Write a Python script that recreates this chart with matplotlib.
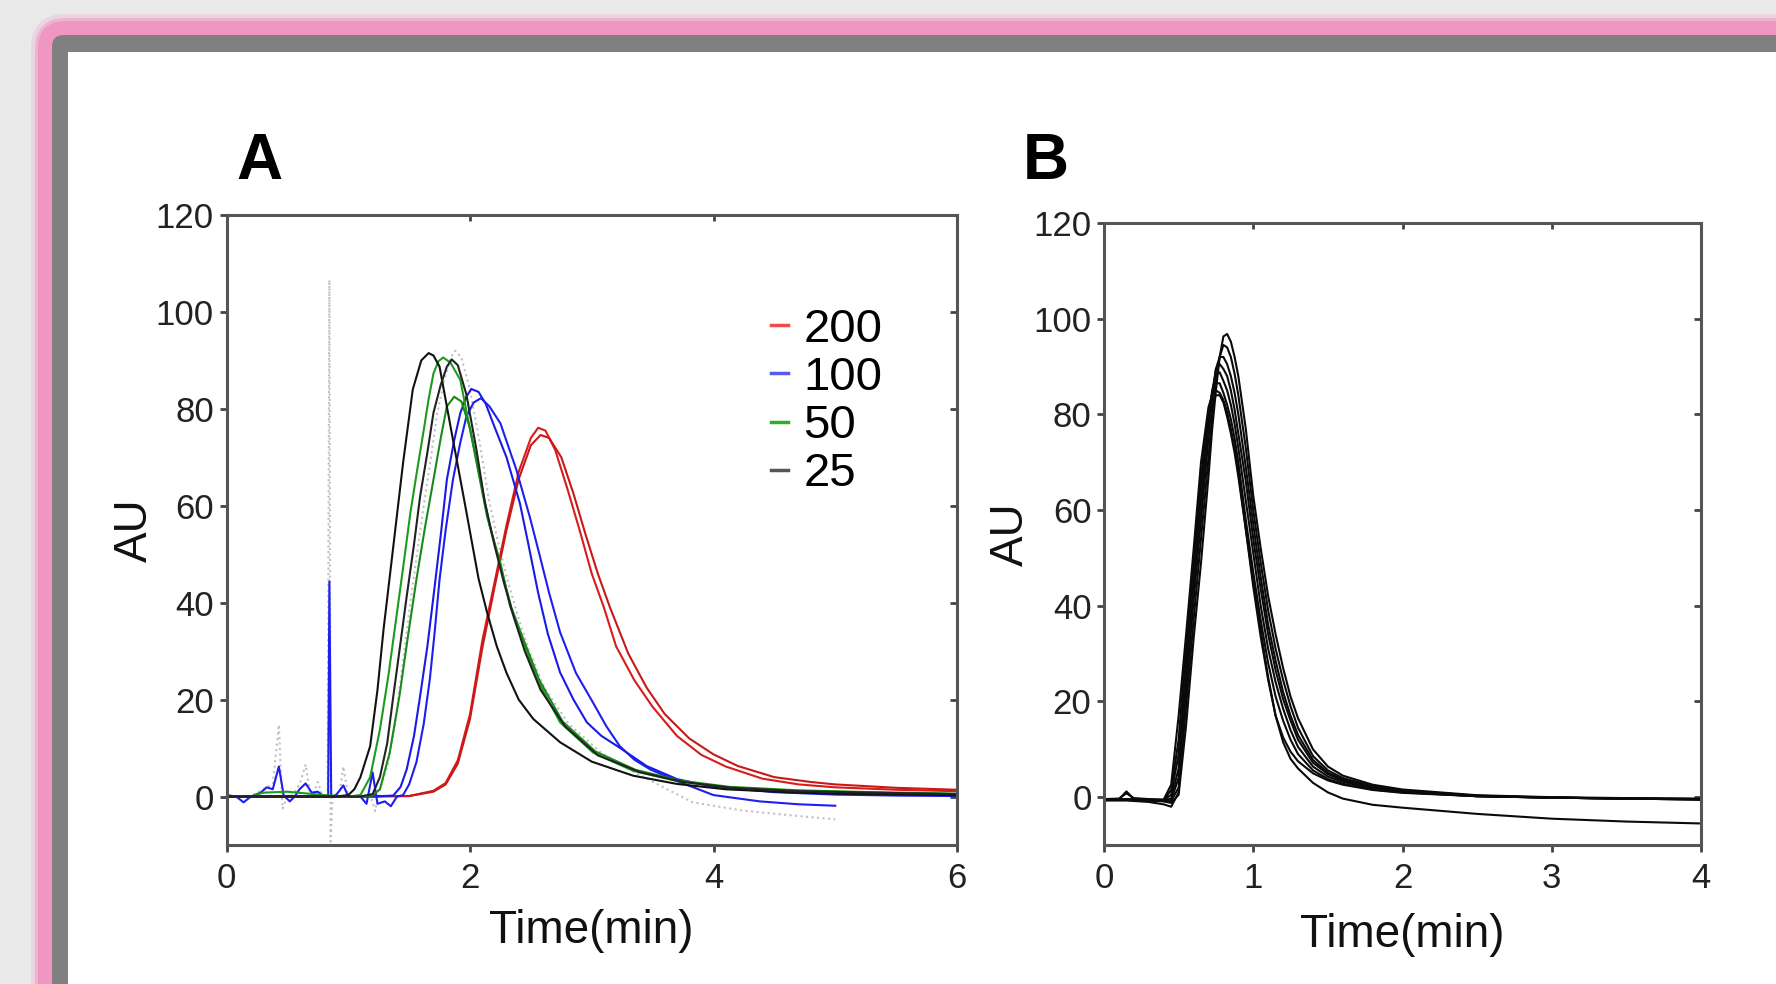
import matplotlib
matplotlib.use("Agg")
import matplotlib.pyplot as plt
from matplotlib.patches import Rectangle, FancyBboxPatch
from matplotlib.lines import Line2D

plt.rcParams['font.family'] = ['Liberation Sans', 'DejaVu Sans']

# ---------------- panel A: traces ----------------
red1_x = [0, 1.0, 1.5, 1.7, 1.8, 1.9, 2.0, 2.1, 2.2, 2.3, 2.4, 2.5, 2.56, 2.62, 2.7, 2.8, 2.9,
          3.0, 3.1, 3.2, 3.35, 3.5, 3.7, 3.9, 4.1, 4.4, 4.7, 5.0, 5.5, 6.0]
red1_y = [0, 0, 0.1, 1.2, 2.8, 7.5, 17, 32, 44, 56, 67, 74, 76.1, 75.5, 71.5, 63.5, 55,
          46, 39, 31, 24, 18.5, 12.5, 8.6, 6.2, 3.7, 2.5, 1.9, 1.4, 1.1]
red2_x = [0, 1.0, 1.5, 1.7, 1.8, 1.9, 2.0, 2.1, 2.2, 2.3, 2.4, 2.5, 2.58, 2.65, 2.75, 2.85, 2.95,
          3.05, 3.15, 3.3, 3.45, 3.6, 3.8, 4.0, 4.2, 4.5, 4.8, 5.0, 5.5, 6.0]
red2_y = [0, 0, 0.1, 1.0, 2.5, 6.8, 16, 30.5, 43, 55, 65.5, 72.5, 74.6, 74, 70, 62.5, 54,
          46, 39, 29.5, 22.5, 17, 12, 8.7, 6.3, 4, 3, 2.5, 1.8, 1.4]

blue1_x = [0, 1.2, 1.37, 1.43, 1.48, 1.54, 1.59, 1.65, 1.70, 1.76, 1.81, 1.87, 1.92, 1.97, 2.01,
           2.07, 2.13, 2.19, 2.30, 2.41, 2.48, 2.56, 2.64, 2.74, 2.85, 2.96, 3.08, 3.21, 3.45,
           3.70, 4.0, 4.5, 5.0, 5.5, 6.0]
blue1_y = [0, 0, 0.2, 2, 5.6, 12.5, 20.7, 31, 41.3, 54, 65.4, 73.5, 79.1, 82.5, 84.1,
           83.5, 81, 77, 70, 60.5, 52, 42, 33.5, 25.6, 20, 15.3, 12.5, 10.4, 6.3,
           3.6, 2.0, 0.9, 0.4, 0.2, 0.1]
blue2_x = [0, 0.08, 0.14, 0.2, 0.28, 0.33, 0.38, 0.43, 0.47, 0.52, 0.56, 0.6, 0.65, 0.7, 0.75,
           0.8, 0.835, 0.845, 0.86, 0.9, 0.96, 1.0, 1.1, 1.15, 1.2, 1.24, 1.3, 1.35, 1.4, 1.45,
           1.5, 1.56, 1.62, 1.67, 1.71, 1.75, 1.8, 1.86, 1.92, 1.97, 2.03, 2.09, 2.16, 2.25,
           2.38, 2.49, 2.57, 2.65, 2.74, 2.87, 3.01, 3.12, 3.23, 3.35, 3.48, 3.70, 4.0, 4.38,
           4.7, 5.0]
blue2_y = [0.3, 0, -1.2, 0, 0.8, 1.9, 1.5, 6.2, 0.2, -1, 0, 1.5, 2.7, 0.8, 1.0,
           0, 0, 44.4, 0, 0.3, 2.3, 0, 0, -1.5, 5, -1.5, -1, -2, 0, 0.3,
           2.5, 7.1, 15, 24.2, 34, 44.8, 55, 65.4, 73, 78.4, 81.3, 82.2, 80.5, 77,
           67.5, 57.8, 50, 42, 33.9, 25.5, 19.4, 14.5, 10.4, 7.6, 5.6, 3.2, 0.3, -1.0,
           -1.6, -1.9]

green1_x = [0, 0.2, 0.3, 0.5, 0.8, 1.0, 1.1, 1.18, 1.26, 1.33, 1.40, 1.46, 1.51, 1.57, 1.62,
            1.66, 1.70, 1.74, 1.78, 1.84, 1.92, 2.03, 2.14, 2.25, 2.33, 2.41, 2.55, 2.74,
            3.01, 3.34, 3.70, 4.11, 4.66, 5.3, 6.0]
green1_y = [0, 0, 0.8, 1.0, 0.3, 0, 0.3, 4, 13.8, 25, 37.9, 49, 58.5, 68, 75.6,
            82, 87.3, 89.8, 90.6, 89.5, 86, 72, 57.8, 48.2, 39.2, 33.9, 24.2, 15.3,
            9.1, 5.3, 3.2, 1.9, 1.2, 0.8, 0.5]
green2_x = [0, 1.1, 1.2, 1.26, 1.34, 1.42, 1.49, 1.56, 1.63, 1.70, 1.76, 1.81, 1.87, 1.93, 2.0,
            2.08, 2.16, 2.25, 2.34, 2.43, 2.57, 2.76, 3.03, 3.36, 3.72, 4.13, 4.68, 5.3, 6.0]
green2_y = [0, 0, 0.2, 1.5, 9, 20.7, 33, 44.8, 55.5, 65.4, 74, 80.5, 82.5, 81.5, 76,
            66, 56, 47.5, 39, 33, 24, 15.5, 9.3, 5.5, 3.3, 2.0, 1.3, 0.9, 0.6]

black1_x = [0, 0.9, 1.0, 1.05, 1.1, 1.18, 1.24, 1.29, 1.37, 1.45, 1.53, 1.6, 1.66, 1.7, 1.75,
            1.85, 1.95, 2.07, 2.14, 2.22, 2.3, 2.4, 2.52, 2.74, 3.0, 3.34, 3.7, 4.1, 4.6, 5.0,
            6.0]
black1_y = [0, 0, 0.3, 1.5, 4, 10.4, 22, 34.5, 51.6, 68.8, 84, 90, 91.5, 91, 88.7,
            75, 61.5, 45, 38, 31, 25.5, 20, 16, 11.2, 7.2, 4.3, 2.6, 1.5, 0.9, 0.6,
            0.3]
black2_x = [0, 1.1, 1.2, 1.26, 1.32, 1.37, 1.42, 1.48, 1.54, 1.59, 1.65, 1.70, 1.76, 1.81, 1.85,
            1.9, 1.97, 2.05, 2.12, 2.2, 2.28, 2.36, 2.45, 2.58, 2.78, 3.05, 3.4, 3.75, 4.15,
            4.7, 5.3, 6.0]
black2_y = [0, 0, 0.5, 4, 11, 20.7, 30, 41.3, 52, 61.9, 71, 79.2, 85, 88.7, 90.2,
            89, 83, 72, 61, 52, 44, 37, 30, 22, 14.5, 8.5, 5, 3.0, 1.8,
            1.1, 0.8, 0.5]

gray_x = [0, 0.2, 0.3, 0.38, 0.43, 0.46, 0.5, 0.55, 0.6, 0.65, 0.69, 0.72, 0.75, 0.79, 0.83,
          0.845, 0.855, 0.87, 0.93, 0.96, 1.0, 1.1, 1.18, 1.22, 1.26, 1.32, 1.38, 1.45, 1.51,
          1.57, 1.62, 1.68, 1.73, 1.79, 1.84, 1.88, 1.93, 2.0, 2.08, 2.15, 2.23, 2.31, 2.39,
          2.48, 2.61, 2.81, 3.08, 3.35, 3.62, 3.83, 4.24, 4.65, 5.0]
gray_y = [0, 0, 1.5, 2.5, 14.8, -2.5, 0, 0.5, 2.5, 6.6, 0, 1, 3, 0, 0,
          106.6, -9.3, 0, 1, 6.2, 0, 0, 0.5, -3, 1.5, 6, 14, 28, 40,
          51, 60, 70, 79, 86, 90.5, 92, 90.5, 84, 73, 62, 52.5, 44.5, 37.5,
          30.5, 22.5, 15, 9, 5, 1.5, -1.2, -2.9, -3.9, -4.7]

legend_labels = ['200', '100', '50', '25']

# ---------------- panel B: replicate runs ----------------
xb = [0, 0.1, 0.15, 0.2, 0.3, 0.4, 0.45, 0.5, 0.55, 0.6, 0.65, 0.7, 0.725, 0.75, 0.775, 0.8,
      0.825, 0.85, 0.875, 0.9, 0.95, 1.0, 1.05, 1.1, 1.15, 1.2, 1.25, 1.3, 1.4, 1.5, 1.6, 1.8,
      2.0, 2.5, 3.0, 3.5, 4.0]
run1 = [-0.5, -0.5, -0.4, -0.5, -0.6, -0.9, -1.2, 0.5, 15, 33, 49, 67, 77, 85, 92, 96.3,
        96.8, 95.2, 92, 88, 77, 63, 52, 42, 34, 27, 21, 16.5, 10, 6.4, 4.5, 2.6,
        1.6, 0.4, 0, -0.2, -0.3]
run2 = [-0.4, -0.3, 0.8, -0.2, -0.4, -0.6, -0.8, 2, 19, 37, 54, 71, 80, 87, 92, 94.5,
        94, 92, 88.5, 84, 73, 60, 49, 39, 31, 24.5, 19, 14.5, 8.6, 5.6, 4, 2.3,
        1.4, 0.3, -0.1, -0.3, -0.4]
run3 = [-0.6, -0.5, -0.5, -0.6, -0.7, -0.8, -0.6, 4, 23, 41, 58, 75, 83.5, 89.5, 92, 92,
        90.5, 88, 84.5, 80, 69, 57, 46, 36, 28.5, 22, 17, 13, 7.8, 5.1, 3.7, 2.1,
        1.3, 0.3, -0.1, -0.3, -0.4]
run4 = [-0.5, -0.5, 1.2, -0.4, -0.5, -0.6, -0.3, 6, 26, 44, 61, 77, 84.5, 89.5, 90.5, 89.5,
        88, 85, 81, 76, 66, 54, 43.5, 34, 26.5, 20.5, 16, 12, 7.2, 4.8, 3.5, 2,
        1.2, 0.2, -0.1, -0.3, -0.4]
run5 = [-0.5, -0.5, -0.5, -0.5, -0.6, -0.6, 0.5, 9, 29, 47, 64, 79, 85, 88.3, 88.8, 87,
        85, 82, 78, 73, 62, 51, 40, 31, 24, 18.5, 14, 10.5, 6.4, 4.3, 3.2, 1.8,
        1.1, 0.2, -0.1, -0.3, -0.5]
run6 = [-0.6, -0.6, -0.6, -0.6, -0.7, -0.6, 1.5, 12, 32, 50, 67, 80.5, 84.5, 86.5, 86.5, 84.5,
        82, 79, 75, 70, 58, 47, 37, 28, 21, 16, 12, 9, 5.6, 3.8, 2.8, 1.6,
        1.0, 0.2, -0.1, -0.3, -0.5]
run7 = [-0.7, -0.7, -0.7, -0.8, -1.0, -1.5, -2.0, 1, 22, 45, 65, 79, 82.5, 84, 84, 82.5,
        79.5, 76, 72, 67, 56, 45, 35, 25, 17, 11.5, 8, 6, 3, 1, -0.3, -1.6,
        -2.2, -3.5, -4.5, -5.1, -5.5]
run8 = [-0.5, -0.5, -0.5, -0.5, -0.5, -0.5, 2.6, 17, 34, 51.6, 70, 81.5, 84, 85, 84.5, 83,
        80.5, 77, 73, 68, 56, 44, 33.5, 24.5, 17, 12.5, 9.5, 7.5, 5, 3.5, 2.6, 1.5,
        0.9, 0.2, -0.1, -0.3, -0.5]
runs_b = [run1, run2, run3, run4, run5, run6, run7, run8]

W, H = 1776, 984
fig = plt.figure(figsize=(W / 100, H / 100), dpi=100)
fig.patch.set_facecolor('#e9e9e9')

# slide frame behind the charts
bg = fig.add_axes([0, 0, 1, 1], zorder=-10)
bg.set_xlim(0, W)
bg.set_ylim(H, 0)
bg.axis('off')
for pad, alpha in [(21, 0.25), (17, 0.5), (14, 1.0)]:
    bg.add_patch(FancyBboxPatch((52 - pad, 35 - pad), 2400, 2400,
                                boxstyle="round,pad=0,rounding_size=%d" % (14 + pad),
                                fc='#f096c2', ec='none', alpha=alpha))
bg.add_patch(FancyBboxPatch((52, 35), 2400, 2400, boxstyle="round,pad=0,rounding_size=12",
                            fc='#808080', ec='none'))
bg.add_patch(Rectangle((68, 52), 2400, 2400, fc='white', ec='none'))


def style_axes(ax, xmax, xticks, xpad):
    ax.set_xlim(0, xmax)
    ax.set_ylim(-10, 120)
    ax.set_xticks(xticks)
    ax.set_yticks(range(0, 121, 20))
    for sp in ax.spines.values():
        sp.set_color('#555555')
        sp.set_linewidth(2.2)
    ax.tick_params(direction='out', length=5, width=2, color='#444444',
                   labelsize=25, labelcolor='#222222', pad=4)
    ax.tick_params(axis='x', pad=7)
    sy = ax.secondary_yaxis('right')
    sy.set_yticks(range(0, 121, 20))
    sy.tick_params(direction='in', length=5, width=2, color='#444444', labelright=False)
    sy.spines['right'].set_visible(False)
    sx = ax.secondary_xaxis('top')
    sx.set_xticks(xticks)
    sx.tick_params(direction='in', length=4, width=2, color='#444444', labeltop=False)
    sx.spines['top'].set_visible(False)
    ax.set_xlabel('Time(min)', fontsize=33, color='#111111', labelpad=xpad)


# ---- panel A ----
axA = fig.add_axes([226.5 / W, 1 - 845 / H, 730.5 / W, 630 / H])
style_axes(axA, 6, [0, 2, 4, 6], 10)
axA.set_ylabel('AU', fontsize=33, color='#111111', labelpad=-1)
lw = 1.5
axA.plot(gray_x, gray_y, color='#c0c0c0', lw=lw, ls=':')
axA.plot(red1_x, red1_y, color='#d81c1c', lw=lw)
axA.plot(red2_x, red2_y, color='#c81818', lw=lw)
axA.plot(blue1_x, blue1_y, color='#1a1ae6', lw=lw)
axA.plot(blue2_x, blue2_y, color='#1e1ef0', lw=lw)
axA.plot(green1_x, green1_y, color='#1c9c1c', lw=lw)
axA.plot(green2_x, green2_y, color='#1a8a1a', lw=lw)
axA.plot(black1_x, black1_y, color='#111111', lw=lw)
axA.plot(black2_x, black2_y, color='#222222', lw=lw)

handles = [Line2D([], [], color=c, lw=2.5) for c in ['#f04a4a', '#5a5af0', '#2cb02c', '#555555']]
axA.legend(handles, legend_labels, loc='upper left', bbox_to_anchor=(0.745, 0.853),
           frameon=False, fontsize=34, handlelength=0.36, handletextpad=0.33,
           labelspacing=0.09, borderpad=0, borderaxespad=0)

# ---- panel B ----
axB = fig.add_axes([1104 / W, 1 - 845 / H, 597 / W, 622 / H])
style_axes(axB, 4, [0, 1, 2, 3, 4], 13)
axB.set_ylabel('AU', fontsize=33, color='#111111', labelpad=0)
for run in runs_b:
    axB.plot(xb, run, color='#0a0a0a', lw=1.5)

fig.text(259 / W, 1 - 179 / H, 'A', ha='center', va='baseline', fontsize=46, fontweight='bold')
fig.text(1046 / W, 1 - 179 / H, 'B', ha='center', va='baseline', fontsize=46, fontweight='bold')

fig.savefig('out.png', dpi=100, facecolor=fig.get_facecolor())
